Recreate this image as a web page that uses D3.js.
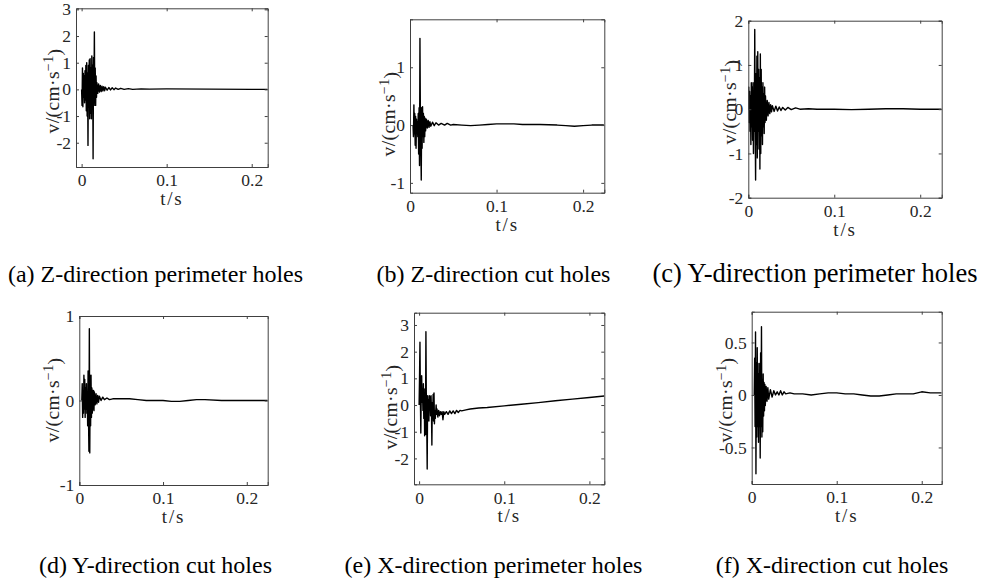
<!DOCTYPE html>
<html><head><meta charset="utf-8">
<script src="https://cdn.jsdelivr.net/npm/d3@7"></script>
<style>body{margin:0;background:#fff}svg{display:block}</style>
</head><body><svg id="c" width="982" height="583" font-family="Liberation Serif"></svg>
<script>
// ---------- DATA ----------
const xTicks = [0, 0.1, 0.2];
const captions = ["(a) Z-direction perimeter holes","(b) Z-direction cut holes","(c) Y-direction perimeter holes",
  "(d) Y-direction cut holes","(e) X-direction perimeter holes","(f) X-direction cut holes"];
const yLabelMain = "v/(cm·s", yLabelSup = "−1", yLabelEnd = ")";
const xLabel = "t/s";

const yTicksA = [-2,-1,0,1,2,3];
const yTicksB = [-1,0,1];
const yTicksC = [-2,-1,0,1,2];
const yTicksD = [-1,0,1];
const yTicksE = [-2,-1,0,1,2,3];
const yTicksF = [-0.5,0,0.5];

const xLimA=[-0.0066,0.2188], yLimA=[-2.91,3.04];
const xLimB=[0,0.2245], yLimB=[-1.17,1.83];
const xLimC=[0,0.225], yLimC=[-2,2];
const xLimD=[0,0.225], yLimD=[-1,1];
const xLimE=[-0.006,0.2175], yLimE=[-2.97,3.46];
const xLimF=[0,0.2235], yLimF=[-0.848,0.793];

const tA=[0,0.0005,0.001,0.0015,0.002,0.0025,0.003,0.0035,0.004,0.0045,0.005,0.0055,0.006,0.0065,0.007,0.0075,0.008,0.0085,0.009,0.0095,0.010,0.0105,0.011,0.0115,0.012,0.0125,0.013,0.0135,0.014,0.0145,0.015,0.0155,0.016,0.0165,0.017,0.0175,0.018,0.019,0.020,0.021,0.022,0.023,0.024,0.025,0.026,0.027,0.028,0.030,0.032,0.034,0.036,0.038,0.040,0.043,0.046,0.050,0.055,0.060,0.070,0.080,0.100,0.150,0.200,0.2188];
const vA=[0,-0.6,0.8,-0.65,0.6,-0.3,0.5,-0.5,0.7,-0.4,0.9,-0.8,1.0,-1.0,0.6,-2.1,0.9,-0.5,1.1,-1.1,1.15,-0.9,0.8,-1.1,1.25,-0.7,0.9,-2.6,1.2,-0.5,2.15,-0.6,0.8,-0.6,0.5,-0.3,0.25,-0.15,0.2,-0.1,0.15,-0.08,0.12,-0.06,0.1,-0.05,0.08,-0.03,0.07,-0.02,0.06,-0.01,0.05,0.0,0.04,0.0,0.03,0.0,0.02,0.01,0.02,0.01,0.0,0.0];

const tB=[0.0035,0.004,0.0045,0.005,0.0055,0.006,0.0065,0.007,0.0075,0.008,0.0085,0.009,0.0095,0.010,0.0105,0.011,0.0115,0.012,0.0125,0.013,0.0135,0.014,0.0145,0.015,0.0155,0.016,0.0165,0.017,0.0175,0.018,0.019,0.020,0.021,0.022,0.023,0.024,0.026,0.028,0.030,0.033,0.036,0.040,0.043,0.047,0.050,0.060,0.070,0.080,0.090,0.100,0.110,0.120,0.130,0.150,0.170,0.180,0.190,0.200,0.210,0.224];
const vB=[0,-0.2,0.35,-0.15,0.2,-0.35,0.15,-0.4,0.1,-0.1,0.05,-0.2,0.2,-0.5,0.3,-0.7,1.5,0.1,-0.3,-0.95,0.3,-0.4,0.32,-0.2,0.2,-0.3,0.15,-0.2,0.12,-0.1,0.1,-0.05,0.08,-0.04,0.06,-0.02,0.05,-0.01,0.04,0.0,0.03,0.0,0.03,0.0,0.01,0.0,-0.01,0.0,0.01,0.02,0.02,0.02,0.01,0.01,0.0,-0.01,-0.02,-0.01,0.0,0.0];

const tC=[0,0.0005,0.001,0.0015,0.002,0.0025,0.003,0.0035,0.004,0.0045,0.005,0.0055,0.006,0.0065,0.007,0.0075,0.008,0.0085,0.009,0.0095,0.010,0.0105,0.011,0.0115,0.012,0.0125,0.013,0.0135,0.014,0.0145,0.015,0.0155,0.016,0.0165,0.017,0.0175,0.018,0.0185,0.019,0.0195,0.020,0.021,0.022,0.023,0.024,0.025,0.026,0.027,0.028,0.030,0.032,0.034,0.036,0.038,0.040,0.043,0.046,0.050,0.055,0.060,0.070,0.080,0.100,0.120,0.140,0.160,0.180,0.200,0.225];
const vC=[0,0.5,-0.3,0.4,-0.5,0.3,-0.8,0.6,-0.4,0.5,-0.7,0.6,-1.0,0.4,-0.5,1.8,-0.3,-1.6,0.8,-0.8,1.2,-1.1,1.3,-0.5,0.9,-0.9,0.7,-1.35,1.25,-1.0,0.9,-0.6,0.5,-0.8,0.6,-0.4,0.35,-0.55,0.5,-0.3,0.3,-0.25,0.2,-0.15,0.15,-0.1,0.1,-0.06,0.08,-0.05,0.07,-0.04,0.05,-0.03,0.04,-0.02,0.04,-0.01,0.03,0.0,0.01,0.0,0.0,-0.01,0.0,0.01,0.01,0.0,0.0];

const tD=[0.003,0.0035,0.004,0.0045,0.005,0.0055,0.006,0.0065,0.007,0.0075,0.008,0.0085,0.009,0.0095,0.010,0.0105,0.011,0.0115,0.012,0.0125,0.013,0.0135,0.014,0.0145,0.015,0.0155,0.016,0.0165,0.017,0.0175,0.018,0.019,0.020,0.021,0.022,0.023,0.024,0.026,0.028,0.030,0.033,0.036,0.040,0.050,0.060,0.070,0.080,0.090,0.100,0.110,0.120,0.130,0.140,0.150,0.170,0.190,0.200,0.225];
const vD=[0,0.2,-0.2,0.1,-0.15,0.3,-0.1,0.25,-0.2,0.15,-0.1,0.2,-0.15,0.1,-0.3,0.35,-0.2,-0.6,0.85,-0.62,0.3,-0.3,0.3,-0.2,0.15,-0.15,0.12,-0.1,0.12,-0.12,0.1,-0.05,0.08,-0.04,0.06,-0.02,0.05,0.0,0.04,0.01,0.03,0.01,0.02,0.02,0.02,0.01,0.0,0.0,0.0,-0.01,-0.01,0.0,0.01,0.01,0.0,0.0,0.0,0.0];

const tE=[0,0.0005,0.001,0.0015,0.002,0.0025,0.003,0.0035,0.004,0.0045,0.005,0.0055,0.006,0.0065,0.007,0.0075,0.008,0.0085,0.009,0.0095,0.010,0.0105,0.011,0.0115,0.012,0.0125,0.013,0.0135,0.014,0.0145,0.015,0.0155,0.016,0.0165,0.017,0.0175,0.018,0.0185,0.019,0.020,0.0205,0.021,0.022,0.023,0.024,0.025,0.026,0.027,0.028,0.029,0.030,0.032,0.034,0.036,0.038,0.040,0.042,0.044,0.046,0.048,0.050,0.055,0.060,0.070,0.080,0.100,0.120,0.140,0.160,0.180,0.200,0.2175];
const vE=[0,1.0,2.35,0.3,-1.05,0.5,1.1,0.1,0.6,-0.2,0.8,-0.5,0.6,-1.15,0.3,-1.1,2.75,0.0,-0.8,-2.4,0.35,-0.3,0.2,-0.6,0.35,-0.2,0.3,-0.4,0.35,-0.2,-1.5,0.1,-0.3,0.4,-0.6,0.45,-0.7,-0.2,-0.5,0.0,-0.35,-0.15,-0.45,-0.2,-0.4,-0.25,-0.35,-0.25,-0.55,-0.25,-0.35,-0.25,-0.35,-0.22,-0.32,-0.22,-0.32,-0.2,-0.28,-0.2,-0.22,-0.18,-0.15,-0.11,-0.09,-0.03,0.03,0.09,0.16,0.22,0.28,0.34];

const tF=[0.003,0.0035,0.004,0.0045,0.005,0.0055,0.006,0.0065,0.007,0.0075,0.008,0.0085,0.009,0.0095,0.010,0.0105,0.011,0.0115,0.012,0.0125,0.013,0.0135,0.014,0.0145,0.015,0.0155,0.016,0.017,0.018,0.019,0.020,0.022,0.024,0.026,0.028,0.030,0.032,0.034,0.036,0.038,0.040,0.045,0.050,0.060,0.070,0.080,0.090,0.100,0.110,0.120,0.130,0.140,0.150,0.160,0.170,0.180,0.190,0.200,0.210,0.2235];
const vF=[0,0.35,-0.3,0.6,-0.75,0.3,-0.4,0.45,-0.3,0.3,-0.45,0.2,-0.3,0.3,-0.6,0.4,-0.3,0.65,-0.4,0.15,-0.35,0.2,-0.2,0.12,-0.15,0.1,-0.1,0.08,-0.06,0.07,-0.04,0.05,-0.02,0.04,0.0,0.03,0.0,0.04,0.0,0.03,0.01,0.02,0.01,0.01,0.0,0.01,0.02,0.02,0.01,0.01,0.0,-0.01,-0.01,0.0,0.01,0.01,0.01,0.03,0.02,0.02];

// ---------- LAYOUT ----------
const panels = [
  {t:tA,v:vA,xl:xLimA,yl:yLimA,yt:yTicksA,box:[76,8.3,267.7,167],ylab:[52,91],cap:[155.5,282,24]},
  {t:tB,v:vB,xl:xLimB,yl:yLimB,yt:yTicksB,box:[410,19.3,604.3,192.7],ylab:[388,114],cap:[493.5,282,24]},
  {t:tC,v:vC,xl:xLimC,yl:yLimC,yt:yTicksC,box:[748.3,20.7,941.7,197.7],ylab:[729,102],cap:[815,282,26.5]},
  {t:tD,v:vD,xl:xLimD,yl:yLimD,yt:yTicksD,box:[79.3,316,267.7,485],ylab:[52,400],cap:[155.5,573,24]},
  {t:tE,v:vE,xl:xLimE,yl:yLimE,yt:yTicksE,box:[414,312.7,604.3,484.3],ylab:[390,407],cap:[493.5,573,24]},
  {t:tF,v:vF,xl:xLimF,yl:yLimF,yt:yTicksF,box:[751.7,311.7,941.7,484],ylab:[725,400],cap:[832,573,24]}
];

const FONT = "Liberation Serif";
const svg = d3.select("#c");
const axCol = "#404040", txtCol = "#262626";
const fmt = d => (d === 0 ? "0" : String(d));

panels.forEach((p, i) => {
  const [x0,y0,x1,y1] = p.box;
  const x = d3.scaleLinear().domain(p.xl).range([x0,x1]);
  const y = d3.scaleLinear().domain(p.yl).range([y1,y0]);
  const g = svg.append("g");
  const cid = "clip"+i;
  g.append("clipPath").attr("id",cid).append("rect").attr("x",x0).attr("y",y0).attr("width",x1-x0).attr("height",y1-y0);

  const data = p.t.map((t,k)=>[t,p.v[k]]);
  g.append("path").datum(data).attr("clip-path",`url(#${cid})`)
    .attr("d", d3.line().x(d=>x(d[0])).y(d=>y(d[1])))
    .attr("fill","none").attr("stroke","#000").attr("stroke-width",1.4).attr("stroke-linejoin","round");

  const tl = 3;
  const axB = d3.axisBottom(x).tickValues(xTicks).tickSize(-tl).tickPadding(7).tickFormat(fmt);
  const axT = d3.axisTop(x).tickValues(xTicks).tickSize(-tl).tickFormat("");
  const axL = d3.axisLeft(y).tickValues(p.yt).tickSize(-tl).tickPadding(5).tickFormat(fmt);
  const axR = d3.axisRight(y).tickValues(p.yt).tickSize(-tl).tickFormat("");
  [[axB,`translate(0,${y1})`],[axT,`translate(0,${y0})`],[axL,`translate(${x0},0)`],[axR,`translate(${x1},0)`]]
    .forEach(([ax,tr]) => {
      const a = g.append("g").attr("transform",tr).call(ax);
      a.attr("font-family",FONT).attr("font-size",17.5);
      a.select(".domain").attr("stroke",axCol).attr("stroke-width",1);
      a.selectAll(".tick line").attr("stroke",axCol);
      a.selectAll("text").attr("fill",txtCol);
    });

  g.append("text").attr("x",(x0+x1)/2).attr("y",y1+38).attr("text-anchor","middle")
    .attr("font-family",FONT).attr("font-size",19).attr("letter-spacing",1.8).attr("fill",txtCol).text(xLabel);
  const yl = g.append("text").attr("transform",`translate(${p.ylab[0]},${p.ylab[1]}) rotate(-90)`)
    .attr("text-anchor","middle").attr("dy","0.35em")
    .attr("font-family",FONT).attr("font-size",19.5).attr("letter-spacing",0.4).attr("fill",txtCol);
  yl.append("tspan").text(yLabelMain);
  yl.append("tspan").attr("dy","-0.45em").attr("font-size",14).text(yLabelSup);
  yl.append("tspan").attr("dy","0.45em").text(yLabelEnd);

  svg.append("text").attr("x",p.cap[0]).attr("y",p.cap[1]).attr("text-anchor","middle")
    .attr("font-family",FONT).attr("font-size",p.cap[2]).attr("fill","#000").text(captions[i]);
});
</script></body></html>
